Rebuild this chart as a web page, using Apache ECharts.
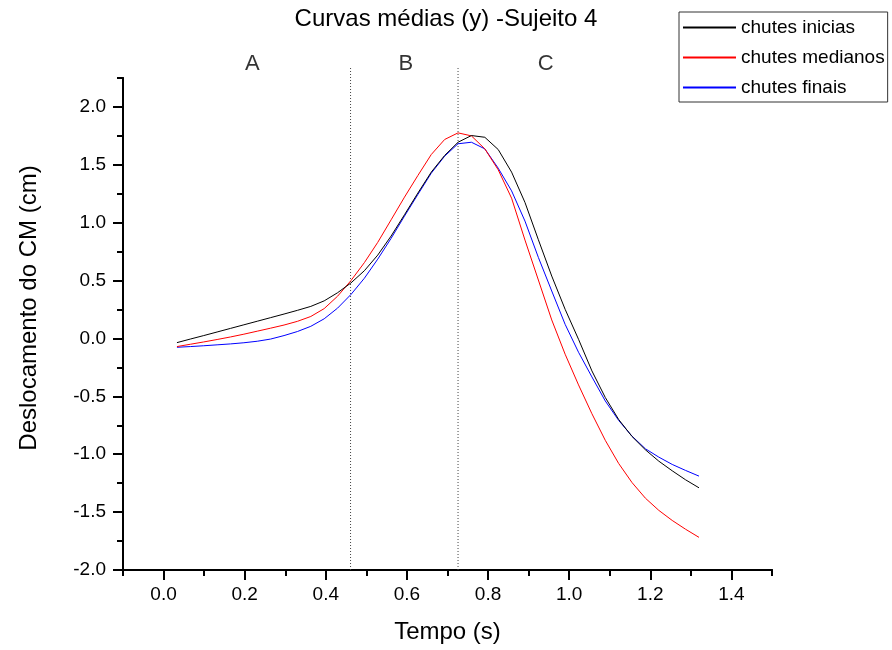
<!DOCTYPE html>
<html>
<head>
<meta charset="utf-8">
<script src="https://cdn.jsdelivr.net/npm/echarts@6/dist/echarts.min.js"></script>
<style>
  html, body { margin: 0; padding: 0; background: #fff; }
  #chart { width: 892px; height: 650px; }
</style>
</head>
<body>
<div id="chart"></div>
<script>
// ---- data ----
const titleText = 'Curvas médias (y) -Sujeito 4';
const xName = 'Tempo (s)';
const yName = 'Deslocamento do CM (cm)';
const seriesNames = ['chutes inicias', 'chutes medianos', 'chutes finais'];
const seriesColors = ['#000000', '#ff0000', '#0000ff'];

const time = [0.033, 0.066, 0.099, 0.132, 0.165, 0.198, 0.231, 0.264, 0.297, 0.330,
              0.363, 0.396, 0.429, 0.462, 0.495, 0.528, 0.561, 0.594, 0.627, 0.660,
              0.693, 0.726, 0.759, 0.792, 0.825, 0.858, 0.891, 0.924, 0.957, 0.990,
              1.023, 1.056, 1.089, 1.122, 1.155, 1.188, 1.221, 1.254, 1.287, 1.320];

const chutesIniciais = [-0.036, -0.005, 0.025, 0.056, 0.087, 0.118, 0.149, 0.180, 0.211, 0.243,
                        0.277, 0.325, 0.395, 0.480, 0.585, 0.720, 0.885, 1.069, 1.256, 1.437,
                        1.581, 1.695, 1.753, 1.738, 1.632, 1.437, 1.175, 0.853, 0.539, 0.252,
                        -0.007, -0.280, -0.510, -0.700, -0.847, -0.962, -1.060, -1.143, -1.221, -1.290];

const chutesMedianos = [-0.070, -0.050, -0.030, -0.009, 0.013, 0.037, 0.063, 0.089, 0.116, 0.148,
                        0.190, 0.258, 0.365, 0.500, 0.655, 0.830, 1.025, 1.221, 1.408, 1.589,
                        1.719, 1.776, 1.750, 1.638, 1.457, 1.212, 0.850, 0.505, 0.160, -0.136,
                        -0.401, -0.650, -0.880, -1.080, -1.245, -1.380, -1.485, -1.572, -1.648, -1.718];

const chutesFinais = [-0.076, -0.070, -0.063, -0.055, -0.047, -0.037, -0.024, -0.005, 0.025, 0.060,
                      0.105, 0.170, 0.262, 0.380, 0.520, 0.685, 0.865, 1.057, 1.244, 1.428,
                      1.575, 1.682, 1.695, 1.638, 1.471, 1.275, 1.014, 0.700, 0.410, 0.122,
                      -0.119, -0.332, -0.540, -0.708, -0.844, -0.953, -1.025, -1.088, -1.140, -1.189];

// phase boundaries (dotted lines) and phase labels
const phaseBounds = [0.461, 0.726];
const phaseLineSpan = [-2.0, 2.343];
const phaseLabels = ['A', 'B', 'C'];
const phaseLabelX = [0.219, 0.597, 0.942];
const phaseLabelY = 2.370;

// ticks
const xMajorTicks = [0.0, 0.2, 0.4, 0.6, 0.8, 1.0, 1.2, 1.4];
const xMinorTicks = [-0.1, 0.1, 0.3, 0.5, 0.7, 0.9, 1.1, 1.3, 1.5];
const yMajorTicks = [-2.0, -1.5, -1.0, -0.5, 0.0, 0.5, 1.0, 1.5, 2.0];
const yMinorTicks = [-1.75, -1.25, -0.75, -0.25, 0.25, 0.75, 1.25, 1.75, 2.25];

// ---- chart ----
const FONT = "'Liberation Sans', Arial, sans-serif";
const chart = echarts.init(document.getElementById('chart'), null, { renderer: 'canvas' });

const axisLineStyle = { color: '#000', width: 2 };
function zip(xs, ys) { return xs.map((x, i) => [x, ys[i]]); }

const dataSeries = [chutesIniciais, chutesMedianos, chutesFinais].map((vals, i) => ({
  name: seriesNames[i],
  type: 'line',
  xAxisIndex: 0,
  yAxisIndex: 0,
  data: zip(time, vals),
  symbol: 'none',
  color: seriesColors[i],
  lineStyle: { color: seriesColors[i], width: 1 },
  z: 3 + (2 - i),
  animation: false
}));

const boundSeries = phaseBounds.map(b => ({
  type: 'line',
  xAxisIndex: 0,
  yAxisIndex: 0,
  data: [[b, phaseLineSpan[0]], [b, phaseLineSpan[1]]],
  symbol: 'none',
  clip: false,
  silent: true,
  lineStyle: { color: '#444', width: 1, type: [1, 2] },
  z: 1,
  animation: false
}));

const labelSeries = {
  type: 'scatter',
  xAxisIndex: 0,
  yAxisIndex: 0,
  clip: false,
  silent: true,
  symbolSize: 1,
  itemStyle: { color: 'rgba(0,0,0,0)' },
  data: phaseLabels.map((n, i) => ({ name: n, value: [phaseLabelX[i], phaseLabelY] })),
  label: {
    show: true,
    position: 'inside',
    formatter: p => p.name,
    fontFamily: FONT,
    fontSize: 22,
    color: '#000'
  },
  animation: false
};

const option = {
  backgroundColor: '#fff',
  animation: false,
  title: {
    text: titleText,
    left: 'center',
    top: 7,
    padding: 0,
    textStyle: { fontFamily: FONT, fontSize: 24, fontWeight: 'normal', color: '#000' }
  },
  legend: {
    data: seriesNames,
    orient: 'vertical',
    left: 679,
    top: 12,
    padding: [6, 3, 5, 3],
    itemWidth: 53,
    itemHeight: 19,
    itemGap: 11,
    borderColor: '#333',
    borderWidth: 1,
    borderRadius: 0,
    backgroundColor: '#fff',
    itemStyle: { opacity: 0 },
    textStyle: { fontFamily: FONT, fontSize: 19, color: '#000' }
  },
  grid: { left: 123, right: 120, top: 78, bottom: 80, containLabel: false },
  xAxis: [
    {
      type: 'value', min: -0.1, max: 1.5, interval: 0.1, position: 'bottom',
      name: xName, nameLocation: 'middle', nameGap: 50,
      nameTextStyle: { fontFamily: FONT, fontSize: 24, color: '#000' },
      axisLine: { show: true, onZero: false, lineStyle: axisLineStyle },
      axisTick: { show: true, customValues: xMajorTicks, length: 10, inside: false, lineStyle: axisLineStyle },
      axisLabel: { customValues: xMajorTicks, formatter: v => v.toFixed(1), fontFamily: FONT, fontSize: 19, color: '#000', margin: 15 },
      splitLine: { show: false }
    },
    {
      type: 'value', min: -0.1, max: 1.5, interval: 0.1, position: 'bottom',
      axisLine: { show: true, onZero: false, lineStyle: axisLineStyle },
      axisTick: { show: true, customValues: xMinorTicks, length: 6, lineStyle: axisLineStyle },
      axisLabel: { show: false },
      splitLine: { show: false }
    }
  ],
  yAxis: [
    {
      type: 'value', min: -2.0, max: 2.25, interval: 0.25, position: 'left',
      name: yName, nameLocation: 'middle', nameGap: 82,
      nameTextStyle: { fontFamily: FONT, fontSize: 24, color: '#000', padding: [0, 0, 0, 32] },
      axisLine: { show: true, onZero: false, lineStyle: axisLineStyle },
      axisTick: { show: true, customValues: yMajorTicks, length: 10, lineStyle: axisLineStyle },
      axisLabel: { customValues: yMajorTicks, formatter: v => v.toFixed(1), fontFamily: FONT, fontSize: 19, color: '#000', margin: 17 },
      splitLine: { show: false }
    },
    {
      type: 'value', min: -2.0, max: 2.25, interval: 0.25, position: 'left',
      axisLine: { show: true, onZero: false, lineStyle: axisLineStyle },
      axisTick: { show: true, customValues: yMinorTicks, length: 6, lineStyle: axisLineStyle },
      axisLabel: { show: false },
      splitLine: { show: false }
    }
  ],
  series: [...boundSeries, ...dataSeries, labelSeries]
};

chart.setOption(option);
</script>
</body>
</html>
